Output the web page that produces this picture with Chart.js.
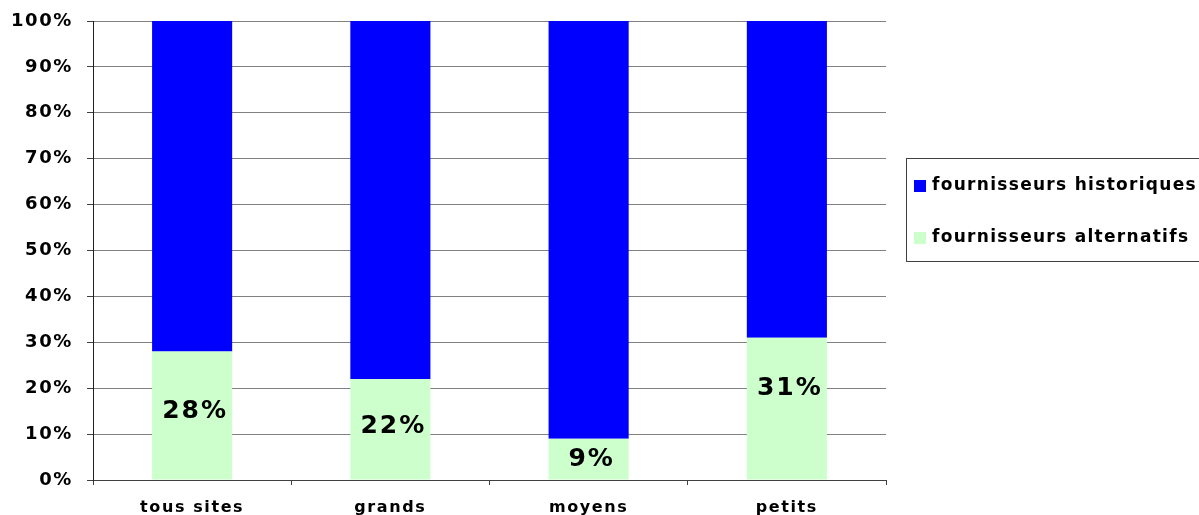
<!DOCTYPE html>
<html>
<head>
<meta charset="utf-8">
<script src="https://cdn.jsdelivr.net/npm/chart.js@4"></script>
<style>
  html, body { margin: 0; padding: 0; background: #fff; }
  #wrap { width: 1199px; height: 515px; position: relative; }
</style>
</head>
<body>
<div id="wrap"><canvas id="graphe"></canvas></div>
<script>
// Catégories de sites et parts des fournisseurs (en %)
var categories = ['tous sites', 'grands', 'moyens', 'petits'];
var alternatifs = [28, 22, 9, 31];
var historiques = [72, 78, 91, 69];
var graduations = [0, 10, 20, 30, 40, 50, 60, 70, 80, 90, 100];

var police = '"DejaVu Sans", Verdana, sans-serif';
var decalageEtiquettes = [-4, -3, 0, -20]; // léger décalage vertical des étiquettes

// Espacement des lettres façon Verdana
var espacement = {
  id: 'espacement',
  beforeLayout: function (chart) { chart.ctx.letterSpacing = '1.6px'; },
  beforeDraw: function (chart) { chart.ctx.letterSpacing = '1.6px'; }
};

// Étiquettes de valeur sur les barres vertes
var etiquettes = {
  id: 'etiquettes',
  afterDatasetsDraw: function (chart) {
    var ctx = chart.ctx;
    var meta = chart.getDatasetMeta(0);
    ctx.save();
    ctx.font = 'bold 25px ' + police;
    ctx.letterSpacing = '2px';
    ctx.fillStyle = '#000';
    ctx.textAlign = 'center';
    ctx.textBaseline = 'middle';
    meta.data.forEach(function (barre, i) {
      var y = (barre.y + barre.base) / 2 + decalageEtiquettes[i];
      ctx.fillText(alternatifs[i] + '%', barre.x + 3, y);
    });
    ctx.restore();
  }
};

// Légende encadrée à droite
var legende = {
  id: 'legende',
  afterDraw: function (chart) {
    var ctx = chart.ctx;
    var x = 906.5, y = 158.5, h = 103;
    ctx.save();
    ctx.strokeStyle = '#404040';
    ctx.lineWidth = 1;
    ctx.strokeRect(x, y, 320, h);
    ctx.font = 'bold 17px ' + police;
    ctx.letterSpacing = '1.3px';
    ctx.textBaseline = 'middle';
    var ordre = [1, 0];
    ordre.forEach(function (d, k) {
      var ds = chart.data.datasets[d];
      var cy = 186 + k * 52;
      ctx.fillStyle = ds.backgroundColor;
      ctx.fillRect(914, cy - 6, 12, 12);
      ctx.fillStyle = '#000';
      ctx.fillText(ds.label, 932, cy);
    });
    ctx.restore();
  }
};

new Chart(document.getElementById('graphe'), {
  type: 'bar',
  data: {
    labels: categories,
    datasets: [
      {
        label: 'fournisseurs alternatifs',
        data: alternatifs,
        backgroundColor: '#CCFFCC',
        categoryPercentage: 1,
        barPercentage: 0.404
      },
      {
        label: 'fournisseurs historiques',
        data: historiques,
        backgroundColor: '#0000FF',
        categoryPercentage: 1,
        barPercentage: 0.404
      }
    ]
  },
  options: {
    responsive: true,
    maintainAspectRatio: false,
    animation: false,
    layout: { padding: { top: 21, right: 313, left: 0, bottom: 0 } },
    plugins: {
      legend: { display: false },
      tooltip: { enabled: false }
    },
    scales: {
      x: {
        stacked: true,
        offset: true,
        grid: {
          offset: true,
          drawOnChartArea: false,
          drawTicks: true,
          tickLength: 5,
          color: '#404040'
        },
        border: { color: '#404040', width: 1 },
        ticks: {
          color: '#000',
          font: { family: police, size: 16, weight: 'bold' },
          padding: 13,
          maxRotation: 0
        },
        afterFit: function (scale) {
          scale.height = 35;
          scale.paddingLeft = 0;
          scale.paddingRight = 0;
        }
      },
      y: {
        stacked: true,
        min: 0,
        max: 100,
        afterBuildTicks: function (scale) {
          scale.ticks = graduations.map(function (v) { return { value: v }; });
        },
        grid: {
          color: '#808080',
          drawTicks: true,
          tickLength: 6,
          tickColor: '#404040'
        },
        border: { color: '#202020', width: 1 },
        ticks: {
          color: '#000',
          font: { family: police, size: 18, weight: 'bold' },
          padding: 14,
          callback: function (v) { return v + '%'; }
        },
        afterFit: function (scale) {
          scale.width = 93;
          scale.paddingTop = 0;
          scale.paddingBottom = 0;
        }
      }
    }
  },
  plugins: [espacement, etiquettes, legende]
});
</script>
</body>
</html>
